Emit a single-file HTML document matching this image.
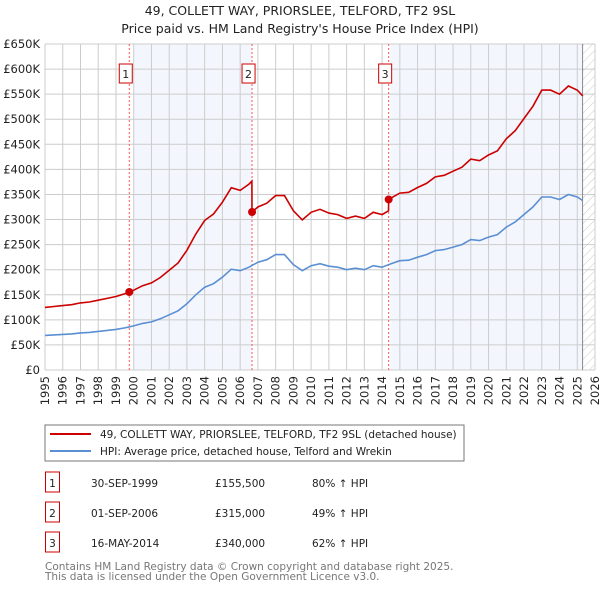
<!DOCTYPE html>
<html><head><meta charset="utf-8"><style>
body{margin:0;background:#fff;font-family:"DejaVu Sans","Liberation Sans",sans-serif;}
</style></head><body>
<svg id="c" width="600" height="590" viewBox="0 0 600 590" xmlns="http://www.w3.org/2000/svg" font-family="DejaVu Sans, Liberation Sans, sans-serif">
<text x="300" y="15" text-anchor="middle" font-size="12.5" fill="#222">49, COLLETT WAY, PRIORSLEE, TELFORD, TF2 9SL</text>
<text x="300" y="33" text-anchor="middle" font-size="12.5" fill="#222">Price paid vs. HM Land Registry's House Price Index (HPI)</text>
<g id="plot"></g>
<rect x="45" y="425" width="419" height="36" fill="#fff" stroke="#777"/>
<line x1="50" y1="434" x2="91" y2="434" stroke="#cc0000" stroke-width="2"/>
<text x="100" y="438" font-size="10.5" fill="#222">49, COLLETT WAY, PRIORSLEE, TELFORD, TF2 9SL (detached house)</text>
<line x1="50" y1="451" x2="91" y2="451" stroke="#5b8fd4" stroke-width="2"/>
<text x="100" y="455" font-size="10.5" fill="#222">HPI: Average price, detached house, Telford and Wrekin</text>
<g id="table"></g>
<text x="45" y="570" font-size="10.5" fill="#777">Contains HM Land Registry data © Crown copyright and database right 2025.</text>
<text x="45" y="580" font-size="10.5" fill="#777">This data is licensed under the Open Government Licence v3.0.</text>
</svg>
<script>
const hpiYears=[1995,1995.5,1996,1996.5,1997,1997.5,1998,1998.5,1999,1999.5,2000,2000.5,2001,2001.5,2002,2002.5,2003,2003.5,2004,2004.5,2005,2005.5,2006,2006.5,2007,2007.5,2008,2008.5,2009,2009.5,2010,2010.5,2011,2011.5,2012,2012.5,2013,2013.5,2014,2014.5,2015,2015.5,2016,2016.5,2017,2017.5,2018,2018.5,2019,2019.5,2020,2020.5,2021,2021.5,2022,2022.5,2023,2023.5,2024,2024.5,2025,2025.3];
const hpiValues=[69,70,71,72,74,75,77,79,81,84,88,93,96,102,110,118,132,150,165,172,185,201,198,205,215,220,230,230,210,198,208,212,207,205,200,203,200,208,205,212,218,219,225,230,238,240,245,250,260,258,265,270,285,295,310,325,345,345,340,350,345,338];
const saleYears=[1999.75,2006.67,2014.37];
const salePrices=[155.5,315,340];
const saleLabels=["1","2","3"];
const saleDates=["30-SEP-1999","01-SEP-2006","16-MAY-2014"];
const salePriceText=["£155,500","£315,000","£340,000"];
const salePct=["80% ↑ HPI","49% ↑ HPI","62% ↑ HPI"];
const yTicks=[0,50,100,150,200,250,300,350,400,450,500,550,600,650];
const yTickLabels=["£0","£50K","£100K","£150K","£200K","£250K","£300K","£350K","£400K","£450K","£500K","£550K","£600K","£650K"];
const xTicks=[1995,1996,1997,1998,1999,2000,2001,2002,2003,2004,2005,2006,2007,2008,2009,2010,2011,2012,2013,2014,2015,2016,2017,2018,2019,2020,2021,2022,2023,2024,2025,2026];

const NS="http://www.w3.org/2000/svg";
const L=45,R=595,T=44,B=370;
const X=y=>L+(y-1995)/(2026-1995)*(R-L);
const Y=v=>B-v/650*(B-T);
function mk(tag,attrs,parent){const e=document.createElementNS(NS,tag);for(const k in attrs)e.setAttribute(k,attrs[k]);parent.appendChild(e);return e;}
const g=document.getElementById('plot');
function hpiAt(t){for(let i=0;i<hpiYears.length-1;i++){if(t>=hpiYears[i]&&t<=hpiYears[i+1]){const f=(t-hpiYears[i])/(hpiYears[i+1]-hpiYears[i]);return hpiValues[i]+f*(hpiValues[i+1]-hpiValues[i]);}}return hpiValues[hpiValues.length-1];}
// shading
let s1=mk('rect',{x:X(2000),y:T,width:X(saleYears[1])-X(2000),height:B-T,fill:'#eef3fc',opacity:0.7},g);

let s2=mk('rect',{x:X(saleYears[2]+0.1),y:T,width:X(2025.3)-X(saleYears[2]+0.1),height:B-T,fill:'#eef3fc',opacity:0.7},g);

// hatch
const defs=mk('defs',{},g);
const pat=mk('pattern',{id:'h',width:6,height:6,patternUnits:'userSpaceOnUse',patternTransform:'rotate(45)'},defs);
mk('line',{x1:0,y1:0,x2:0,y2:6,stroke:'#bbb','stroke-width':0.8},pat);
let hr=mk('rect',{x:X(2025.3),y:T,width:R-X(2025.3),height:B-T,fill:'url(#h)'},g);

// grid
yTicks.forEach((v,i)=>{
 let l=mk('line',{x1:L,x2:R,y1:Y(v),y2:Y(v),stroke:'#ccc','stroke-width':1},g);
 
 let t=mk('text',{x:L-5,y:Y(v)+4,'text-anchor':'end','font-size':11.5,fill:'#222'},g);
 t.textContent=yTickLabels[i];
 
});
xTicks.forEach(yr=>{
 let l=mk('line',{x1:X(yr),x2:X(yr),y1:T,y2:B,stroke:'#ccc','stroke-width':1},g);
 
 let t=mk('text',{x:0,y:0,'text-anchor':'end','font-size':11.5,fill:'#222',transform:`translate(${X(yr)+4},${B+6}) rotate(-90)`},g);
 t.textContent=yr;
 
});
let vl=mk('line',{x1:X(2025.3),x2:X(2025.3),y1:T,y2:B,stroke:'#888','stroke-width':1},g);

// sale lines
saleYears.forEach((sy,i)=>{
 let l=mk('line',{x1:X(sy),x2:X(sy),y1:T,y2:B,stroke:'#ff5555','stroke-width':1,'stroke-dasharray':'2,2'},g);
 
 let r=mk('rect',{x:X(sy)-10,y:64,width:13,height:19,fill:'#fff',stroke:'#cc0000'},g);
 
 let t=mk('text',{x:X(sy)-3.5,y:78,'text-anchor':'middle','font-size':11,fill:'#222'},g);
 t.textContent=saleLabels[i];
 
});
// HPI line
let pb=hpiYears.map((yr,i)=>X(yr).toFixed(1)+','+Y(hpiValues[i]).toFixed(1)).join(' ');
let hl=mk('polyline',{points:pb,fill:'none',stroke:'#5b8fd4','stroke-width':1.6},g);

// red line: hpi scaled by ratio from most recent sale
const ratio0=salePrices[0]/hpiAt(saleYears[0]);
function redAt(t){let r=ratio0;for(let i=0;i<saleYears.length;i++){if(t>=saleYears[i])r=salePrices[i]/hpiAt(saleYears[i]);}return hpiAt(t)*r;}
let times=[];hpiYears.forEach(t=>times.push(t));saleYears.forEach(t=>{times.push(t-0.01);times.push(t);});
times.sort((a,b)=>a-b);
let pr=times.map(t=>X(t).toFixed(1)+','+Y(redAt(t)).toFixed(1)).join(' ');
let rl=mk('polyline',{points:pr,fill:'none',stroke:'#cc0000','stroke-width':1.6},g);

saleYears.forEach((sy,i)=>{
 let c=mk('circle',{cx:X(sy),cy:Y(salePrices[i]),r:4,fill:'#cc0000'},g);
 
});
// table
const tb=document.getElementById('table');
saleLabels.forEach((lab,i)=>{
 const cy=483+i*30;
 let r=mk('rect',{x:45.5,y:cy-11,width:14,height:20,fill:'#fff',stroke:'#cc0000'},tb);
 
 const cells=[[52.5,lab,'middle'],[91,saleDates[i],'start'],[215,salePriceText[i],'start'],[312,salePct[i],'start']];
 cells.forEach((c,j)=>{
  let t=mk('text',{x:c[0],y:cy+4,'text-anchor':c[2],'font-size':10.5,fill:'#222'},tb);
  t.textContent=c[1];
  
  
 });
});
</script>
</body></html>
